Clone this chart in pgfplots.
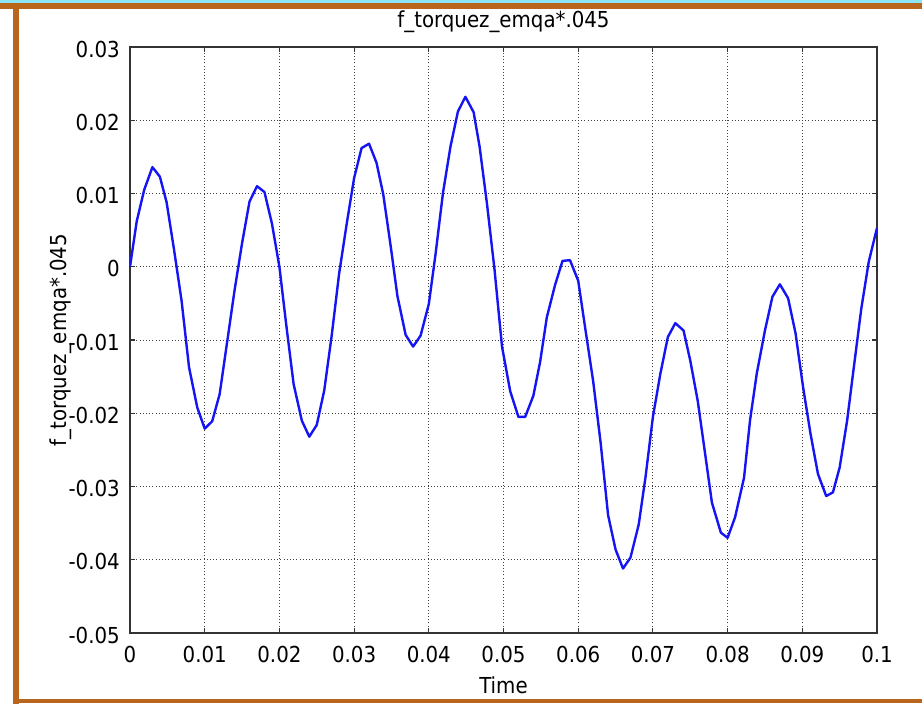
\documentclass[border=0pt]{standalone}
\usepackage{fontspec}
\setmainfont{DejaVu Sans Condensed}
\usepackage{pgfplots}
\pgfplotsset{compat=1.18}
\definecolor{frameorange}{RGB}{184,102,30}
\definecolor{topcyan}{RGB}{140,228,245}
\newcommand{\lblfont}{\fontsize{16.5pt}{19pt}\selectfont}
\begin{document}
\begin{tikzpicture}
\begin{scope}[x=0.75pt,y=0.75pt]
\path[use as bounding box, fill=white] (0,0) rectangle (922,704);
\fill[topcyan] (0,701) rectangle (922,704);
\fill[frameorange] (0,695) rectangle (922,701);
\fill[frameorange] (13,0) rectangle (19,695);
\fill[frameorange] (13,1) rectangle (922,5);
\end{scope}
\begin{axis}[
  at={(97.5pt,53.25pt)}, anchor=south west,
  scale only axis, width=560.25pt, height=439.5pt,
  xmin=0, xmax=0.1, ymin=-0.05, ymax=0.03,
  scaled x ticks=false, scaled y ticks=false,
  xtick={0,0.01,0.02,0.03,0.04,0.05,0.06,0.07,0.08,0.09,0.1},
  xticklabels={0,0.01,0.02,0.03,0.04,0.05,0.06,0.07,0.08,0.09,0.1},
  ytick={-0.05,-0.04,-0.03,-0.02,-0.01,0,0.01,0.02,0.03},
  yticklabels={-0.05,-0.04,-0.03,-0.02,-0.01,0,0.01,0.02,0.03},
  xtick pos=both, ytick pos=both, tick align=inside,
  major tick length=3.75pt,
  tick style={black!80, line width=0.8pt},
  axis line style={black!80, line width=1.3pt},
  grid=major,
  major grid style={black!75, line width=0.7pt, dash pattern=on 0.8pt off 1.6pt},
  xticklabel style={font=\lblfont, anchor=base, inner sep=0pt, yshift=-21.75pt},
  yticklabel style={font=\lblfont, anchor=east, inner sep=0pt, xshift=-7.5pt, yshift=-1.5pt},
  title={f\_torquez\_emqa*.045},
  title style={font=\lblfont, at={(axis description cs:0.5,1.029)}, anchor=center, inner sep=0pt},
  xlabel={Time},
  xlabel style={font=\lblfont, at={(axis description cs:0.5,-0.1024)}, anchor=base, inner sep=0pt},
  ylabel={f\_torquez\_emqa*.045},
  ylabel style={font=\lblfont, at={(axis description cs:-0.0924,0.5)}, anchor=center, inner sep=0pt},
  clip=true,
]
\addplot[color={rgb,255:red,20;green,20;blue,245}, line width=1.8pt, line join=round] coordinates {
(0,0) (0.0009,0.0062) (0.0019,0.0105) (0.003,0.0136) (0.004,0.0123) (0.0049,0.0088)
(0.0059,0.0023) (0.0069,-0.0046) (0.0079,-0.0137) (0.009,-0.0192) (0.01,-0.0221)
(0.011,-0.0211) (0.012,-0.0174) (0.013,-0.0103) (0.014,-0.0032) (0.015,0.0032)
(0.016,0.0089) (0.017,0.011) (0.018,0.0102) (0.019,0.0059) (0.02,0) (0.0209,-0.0078)
(0.0219,-0.016) (0.023,-0.021) (0.024,-0.0232) (0.025,-0.0216) (0.026,-0.0169)
(0.027,-0.0094) (0.028,-0.0009) (0.029,0.0058) (0.03,0.0121) (0.031,0.0162)
(0.032,0.0168) (0.033,0.0142) (0.0339,0.0099) (0.0349,0.0028) (0.0358,-0.004)
(0.0369,-0.0093) (0.0379,-0.0109) (0.0389,-0.0094) (0.04,-0.0051) (0.0409,0.0017)
(0.0419,0.0101) (0.0429,0.0164) (0.0439,0.0212) (0.0449,0.0232) (0.046,0.0211)
(0.0468,0.0164) (0.0478,0.0085) (0.0488,-0.0004) (0.0498,-0.0109) (0.0509,-0.017)
(0.052,-0.0205) (0.0529,-0.0205) (0.054,-0.0176) (0.0549,-0.013) (0.0558,-0.0069)
(0.0569,-0.0025) (0.0579,0.0008) (0.0589,0.0009) (0.06,-0.0019) (0.061,-0.0088)
(0.062,-0.0156) (0.063,-0.024) (0.064,-0.0339) (0.065,-0.0386) (0.066,-0.0412)
(0.067,-0.0397) (0.0681,-0.0352) (0.069,-0.0288) (0.07,-0.0205) (0.071,-0.0146)
(0.072,-0.0096) (0.073,-0.0077) (0.0741,-0.0087) (0.075,-0.0128) (0.076,-0.0183)
(0.077,-0.0256) (0.0779,-0.0322) (0.0791,-0.0363) (0.08,-0.037) (0.081,-0.0342)
(0.0822,-0.0288) (0.083,-0.021) (0.0839,-0.0146) (0.085,-0.0087) (0.086,-0.0041)
(0.087,-0.0024) (0.0881,-0.0043) (0.0891,-0.0091) (0.0901,-0.0164) (0.0911,-0.0228)
(0.0921,-0.0283) (0.0932,-0.0313) (0.0941,-0.0308) (0.095,-0.0274) (0.096,-0.021)
(0.0969,-0.0137) (0.0979,-0.0057) (0.0989,0.0007) (0.1,0.0053)
};
\end{axis}
\end{tikzpicture}
\end{document}
